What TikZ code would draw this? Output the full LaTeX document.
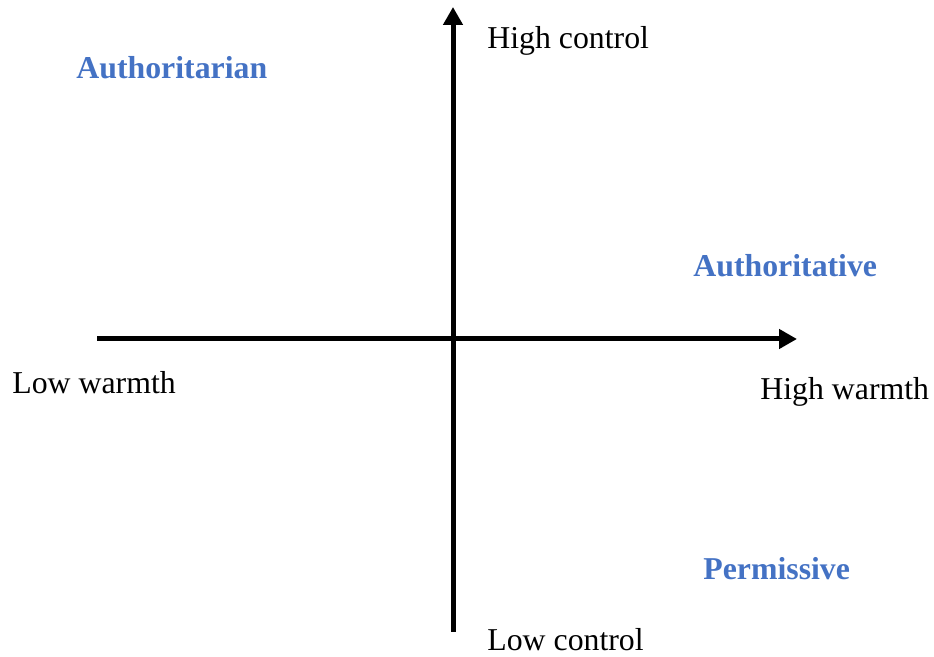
\documentclass[tikz,border=0pt]{standalone}
\usepackage{fontspec}
\setmainfont{Liberation Serif}
\usepackage{xcolor}
\usepackage{tikz}
\usetikzlibrary{arrows.meta, positioning}
\definecolor{styleblue}{HTML}{4472C4}

\begin{document}
\begin{tikzpicture}[x=0.5pt, y=-0.5pt,
    axis/.style={line width=2.5pt, -{Triangle[length=9pt, width=9.5pt]}},
    axislabel/.style={anchor=base west, inner sep=0pt, font=\fontsize{15.9}{19}\selectfont},
    stylelabel/.style={axislabel, text=styleblue, font=\fontsize{15.9}{19}\selectfont\bfseries}]
  \useasboundingbox (0,0) rectangle (934,657);

  % Axis end points
  \coordinate (warmthlow) at (97,339);
  \coordinate (warmthhigh) at (797,339);
  \coordinate (controllow) at (453,632);
  \coordinate (controlhigh) at (453,7);

  % Warmth and control axes
  \draw[axis] (warmthlow) -- (warmthhigh);
  \draw[axis] (controllow) -- (controlhigh);

  % Axis labels
  \node[axislabel] (highcontrol) at (487,49) {High control};
  \node[axislabel] (lowcontrol) at (487,651) {Low control};
  \node[axislabel] (lowwarmth) at (12,394) {Low warmth};
  \node[axislabel] (highwarmth) at (760,400) {High warmth};

  % Parenting styles
  \node[stylelabel] (authoritarian) at (76,79) {Authoritarian};
  \node[stylelabel] (authoritative) at (693,277) {Authoritative};
  \node[stylelabel] (permissive) at (703,580) {Permissive};
\end{tikzpicture}
\end{document}
